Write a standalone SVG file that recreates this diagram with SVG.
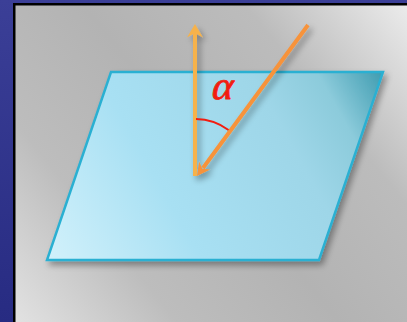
<svg xmlns="http://www.w3.org/2000/svg" width="407" height="322" viewBox="0 0 407 322">
<defs>
<linearGradient id="blue" x1="0" y1="0" x2="0" y2="1"><stop offset="0" stop-color="#3b3f97"/><stop offset="1" stop-color="#272b82"/></linearGradient>
<linearGradient id="panel" x1="15" y1="322" x2="407" y2="5" gradientUnits="userSpaceOnUse"><stop offset="0" stop-color="#e2e2e2"/><stop offset="0.25" stop-color="#bdbdbd"/><stop offset="0.5" stop-color="#b3b3b3"/><stop offset="0.75" stop-color="#bcbcbc"/><stop offset="1" stop-color="#ebebeb"/></linearGradient>
<linearGradient id="plane" x1="47" y1="260" x2="383" y2="72" gradientUnits="userSpaceOnUse"><stop offset="0" stop-color="#d2f1fb"/><stop offset="0.35" stop-color="#a8e0f3"/><stop offset="0.7" stop-color="#9ed6e8"/><stop offset="0.85" stop-color="#8ccbdb"/><stop offset="1" stop-color="#3f9cb0"/></linearGradient>
<filter id="sh" x="-10%" y="-10%" width="125%" height="125%"><feGaussianBlur in="SourceAlpha" stdDeviation="3"/><feOffset dx="3" dy="4"/><feComponentTransfer><feFuncA type="linear" slope="0.35"/></feComponentTransfer><feMerge><feMergeNode/><feMergeNode in="SourceGraphic"/></feMerge></filter>
</defs>
<style>
.vec{stroke-width:4;fill:none;stroke-linecap:butt}
</style>
<rect width="407" height="322" fill="url(#blue)"/>
<rect x="13" y="3" width="394" height="319" fill="#000"/>
<rect x="15.5" y="5.5" width="391.5" height="316.5" fill="url(#panel)"/>
<g id="plane" filter="url(#sh)">
<polygon points="111,72 383,72 319,260 47,260" fill="url(#plane)" stroke="#2bb0d2" stroke-width="2.5" stroke-linejoin="miter"/>
</g>
<g id="connectors" filter="url(#sh)">
<g id="normal">
<line x1="195" y1="176" x2="195" y2="32" class="vec" stroke="#f6b24c"/>
<path d="M195,24 L203,37.5 L195,33 L187,37.5 Z" fill="#f6b24c"/>
</g>
<g id="incident">
<line x1="308" y1="25" x2="203" y2="168" class="vec" stroke="#f7933b"/>
<path d="M197,176 L199.1,161.4 L202.3,168.7 L210.3,169.6 Z" fill="#f7933b"/>
</g>
</g>
<g id="angle">
<path d="M196,119 A56,56 0 0 1 228.5,130" fill="none" stroke="#f21d10" stroke-width="2"/>
<text x="0" y="0" transform="translate(210,99) skewX(-14)" font-family="Liberation Serif, serif" font-size="40" fill="#f21d10" stroke="#f21d10" stroke-width="0.9">α</text>
</g>
</svg>
